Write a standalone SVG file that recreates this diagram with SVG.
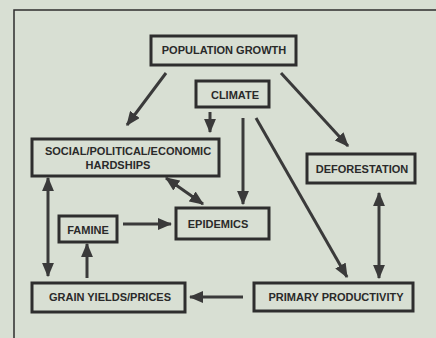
<svg xmlns="http://www.w3.org/2000/svg" width="436" height="338" viewBox="0 0 436 338">
<defs>
<style>
.box{fill:none;stroke:#2e2e2e;stroke-width:3}
.t{font-family:"Liberation Sans",Arial,sans-serif;font-weight:bold;font-size:11px;fill:#2a2a2a;text-anchor:middle}
.c{stroke:#3a3a3a;stroke-width:3;fill:none}
</style>
<marker id="ah" viewBox="0 0 12 10" refX="11" refY="5" markerWidth="4.8" markerHeight="4" markerUnits="strokeWidth" orient="auto-start-reverse">
<path d="M0,0 L12,5 L0,10 z" fill="#3a3a3a"/>
</marker>
</defs>
<rect width="436" height="338" fill="#d8dfd3"/>
<path d="M14,340 L14,10 L440,10" fill="none" stroke="#2e2e2e" stroke-width="1.5"/>
<g id="population"><rect class="box" x="151" y="36" width="145" height="29"/><text class="t" x="224" y="54">POPULATION GROWTH</text></g>
<g id="climate"><rect class="box" x="196" y="81" width="73" height="26"/><text class="t" x="235" y="99">CLIMATE</text></g>
<g id="social"><rect class="box" x="32" y="139" width="187" height="37"/><text class="t" x="128" y="155">SOCIAL/POLITICAL/ECONOMIC</text><text class="t" x="118" y="169">HARDSHIPS</text></g>
<g id="deforestation"><rect class="box" x="307" y="154" width="108" height="29"/><text class="t" x="362" y="173">DEFORESTATION</text></g>
<g id="epidemics"><rect class="box" x="176" y="208" width="93" height="31"/><text class="t" x="218" y="228">EPIDEMICS</text></g>
<g id="famine"><rect class="box" x="59" y="216" width="58" height="26"/><text class="t" x="88" y="234">FAMINE</text></g>
<g id="grain"><rect class="box" x="32" y="283" width="153" height="29"/><text class="t" x="110" y="301">GRAIN YIELDS/PRICES</text></g>
<g id="primary"><rect class="box" x="254" y="283" width="159" height="28"/><text class="t" x="336" y="301">PRIMARY PRODUCTIVITY</text></g>
<g id="connectors">
<line class="c" x1="166" y1="73" x2="127" y2="125" marker-end="url(#ah)"/>
<line class="c" x1="281" y1="73" x2="348" y2="146" marker-end="url(#ah)"/>
<line class="c" x1="210" y1="112" x2="210" y2="132" marker-end="url(#ah)"/>
<line class="c" x1="243" y1="118" x2="243" y2="204" marker-end="url(#ah)"/>
<line class="c" x1="256" y1="118" x2="347" y2="277" marker-end="url(#ah)"/>
<line class="c" x1="166" y1="178" x2="203" y2="204" marker-start="url(#ah)" marker-end="url(#ah)"/>
<line class="c" x1="123" y1="224" x2="171" y2="224" marker-end="url(#ah)"/>
<line class="c" x1="87" y1="278" x2="87" y2="244" marker-end="url(#ah)"/>
<line class="c" x1="48" y1="178" x2="48" y2="276" marker-start="url(#ah)" marker-end="url(#ah)"/>
<line class="c" x1="379" y1="193" x2="379" y2="278" marker-start="url(#ah)" marker-end="url(#ah)"/>
<line class="c" x1="243" y1="297" x2="190" y2="297" marker-end="url(#ah)"/>
</g>
</svg>
